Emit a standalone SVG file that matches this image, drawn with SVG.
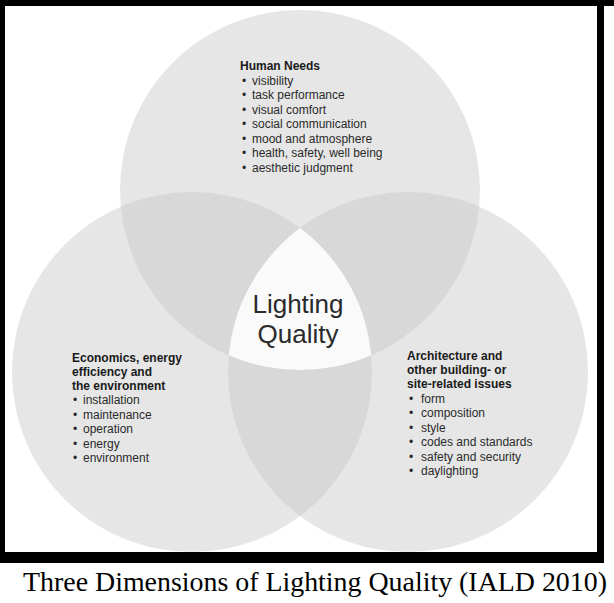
<svg xmlns="http://www.w3.org/2000/svg" width="614" height="603" viewBox="0 0 614 603">
<style>
.c{fill:#e6e6e6}
.p{fill:#d8d8d8}
.t{fill:#fafafa}
.h{font-family:"Liberation Sans",Arial,sans-serif;font-size:12px;font-weight:bold;fill:#1a1a1a}
.i{font-family:"Liberation Sans",Arial,sans-serif;font-size:12px;fill:#2a2a2a}
.big{font-family:"Liberation Sans",Arial,sans-serif;font-size:26px;fill:#2a2a2a;text-anchor:middle}
.cap{font-family:"Liberation Serif","Times New Roman",serif;font-size:28px;fill:#000}
</style>
<defs>
<clipPath id="cA"><circle cx="300" cy="190" r="180"/></clipPath>
<clipPath id="cB"><circle cx="192" cy="372" r="180"/></clipPath>
</defs>
<rect x="0" y="0" width="614" height="603" fill="#fff"/>
<g id="circles">
<circle class="c" cx="300" cy="190" r="180"/>
<circle class="c" cx="192" cy="372" r="180"/>
<circle class="c" cx="408" cy="372" r="180"/>
<g clip-path="url(#cA)"><circle class="p" cx="192" cy="372" r="180"/><circle class="p" cx="408" cy="372" r="180"/></g>
<g clip-path="url(#cB)"><circle class="p" cx="408" cy="372" r="180"/></g>
<g clip-path="url(#cA)"><g clip-path="url(#cB)"><circle class="t" cx="408" cy="372" r="180"/></g></g>
</g>
<g id="frame" fill="#000">
<rect x="0" y="0" width="614" height="6"/>
<rect x="0" y="0" width="5" height="563"/>
<rect x="597" y="0" width="7" height="563"/>
<rect x="0" y="552" width="604" height="11"/>
</g>
<g id="human-needs">
<text class="h" x="240" y="70">Human Needs</text>
<g class="i">
<text x="242" y="84.5">•</text><text x="252" y="84.5">visibility</text>
<text x="242" y="99">•</text><text x="252" y="99">task performance</text>
<text x="242" y="113.5">•</text><text x="252" y="113.5">visual comfort</text>
<text x="242" y="128">•</text><text x="252" y="128">social communication</text>
<text x="242" y="142.5">•</text><text x="252" y="142.5">mood and atmosphere</text>
<text x="242" y="157">•</text><text x="252" y="157">health, safety, well being</text>
<text x="242" y="171.5">•</text><text x="252" y="171.5">aesthetic judgment</text>
</g>
</g>
<g id="economics">
<text class="h" x="72" y="362">Economics, energy</text>
<text class="h" x="72" y="376">efficiency and</text>
<text class="h" x="72" y="390">the environment</text>
<g class="i">
<text x="73" y="404">•</text><text x="83" y="404">installation</text>
<text x="73" y="418.5">•</text><text x="83" y="418.5">maintenance</text>
<text x="73" y="433">•</text><text x="83" y="433">operation</text>
<text x="73" y="447.5">•</text><text x="83" y="447.5">energy</text>
<text x="73" y="462">•</text><text x="83" y="462">environment</text>
</g>
</g>
<g id="architecture">
<text class="h" x="407" y="360">Architecture and</text>
<text class="h" x="407" y="374">other building- or</text>
<text class="h" x="407" y="388">site-related issues</text>
<g class="i">
<text x="409" y="402.5">•</text><text x="421" y="402.5">form</text>
<text x="409" y="417">•</text><text x="421" y="417">composition</text>
<text x="409" y="431.5">•</text><text x="421" y="431.5">style</text>
<text x="409" y="446">•</text><text x="421" y="446">codes and standards</text>
<text x="409" y="460.5">•</text><text x="421" y="460.5">safety and security</text>
<text x="409" y="475">•</text><text x="421" y="475">daylighting</text>
</g>
</g>
<g id="lighting-quality">
<text class="big" x="298" y="313">Lighting</text>
<text class="big" x="298" y="343">Quality</text>
</g>
<text class="cap" x="23" y="591" textLength="584" lengthAdjust="spacingAndGlyphs">Three Dimensions of Lighting Quality (IALD 2010)</text>
</svg>
